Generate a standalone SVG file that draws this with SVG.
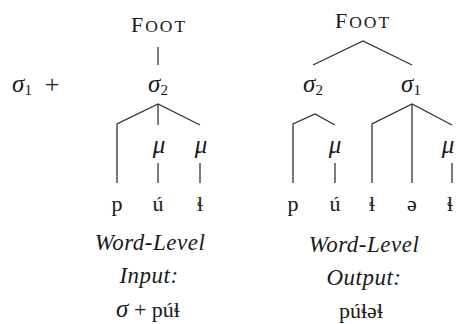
<svg xmlns="http://www.w3.org/2000/svg" width="456" height="324" viewBox="0 0 456 324">
<style>
text{font-family:"Liberation Serif","DejaVu Serif",serif;font-size:22px;fill:#1a1a1a;text-anchor:middle}
.it{font-style:italic;font-size:23px}
.sc{font-size:17.5px}
.sub{font-size:15px;font-style:normal}
.gr{font-style:italic;font-size:25px}
#connectors path{fill:none;stroke:#333;stroke-width:1.3}
</style>
<rect width="456" height="324" fill="#fff"/>
<g id="connectors">
<path d="M158,47 V65"/>
<path d="M117,183 V124 L158,104 L200,125"/>
<path d="M158,104 V125"/>
<path d="M158,163 V183"/>
<path d="M200,163 V183"/>
<path d="M313,65 L363,41 L412,65"/>
<path d="M293,183 V124 L315,114 L335,125"/>
<path d="M335,163 V183"/>
<path d="M372,183 V124 L412,104 L452,125"/>
<path d="M412,104 V183"/>
<path d="M452,163 V183"/>
</g>
<g id="left-foot"><text x="159" y="32" style="letter-spacing:2px">F<tspan class="sc">OOT</tspan></text></g>
<g id="sigma1-plus"><text x="22" y="92"><tspan class="gr">σ</tspan><tspan class="sub" dy="3">1</tspan></text><text x="52" y="93" style="font-size:26px">+</text></g>
<g id="left-sigma2"><text x="158" y="92"><tspan class="gr">σ</tspan><tspan class="sub" dy="3">2</tspan></text></g>
<g id="left-mu1"><text class="gr" x="159" y="153">μ</text></g>
<g id="left-mu2"><text class="gr" x="201" y="153">μ</text></g>
<g id="left-p"><text x="117" y="211">p</text></g>
<g id="left-u"><text x="158" y="211">ú</text></g>
<g id="left-l"><text x="200" y="211">ɬ</text></g>
<g id="left-caption">
<text class="it" x="150" y="250" style="letter-spacing:0.5px">Word-Level</text>
<text class="it" x="149" y="283" style="letter-spacing:0.5px">Input:</text>
<text x="148" y="317"><tspan class="gr">σ</tspan><tspan> + púɬ</tspan></text>
</g>
<g id="right-foot"><text x="363" y="28" style="letter-spacing:2px">F<tspan class="sc">OOT</tspan></text></g>
<g id="right-sigma2"><text x="313" y="92"><tspan class="gr">σ</tspan><tspan class="sub" dy="3">2</tspan></text></g>
<g id="right-sigma1"><text x="411" y="92"><tspan class="gr">σ</tspan><tspan class="sub" dy="3">1</tspan></text></g>
<g id="right-mu1"><text class="gr" x="335" y="153">μ</text></g>
<g id="right-mu2"><text class="gr" x="448" y="153">μ</text></g>
<g id="right-p"><text x="293" y="211">p</text></g>
<g id="right-u"><text x="335" y="211">ú</text></g>
<g id="right-l1"><text x="372" y="211">ɬ</text></g>
<g id="right-schwa"><text x="412" y="211">ə</text></g>
<g id="right-l2"><text x="450" y="211">ɬ</text></g>
<g id="right-caption">
<text class="it" x="364" y="252" style="letter-spacing:0.5px">Word-Level</text>
<text class="it" x="364" y="285" style="letter-spacing:0.5px">Output:</text>
<text x="361" y="318">púɬəɬ</text>
</g>
</svg>
